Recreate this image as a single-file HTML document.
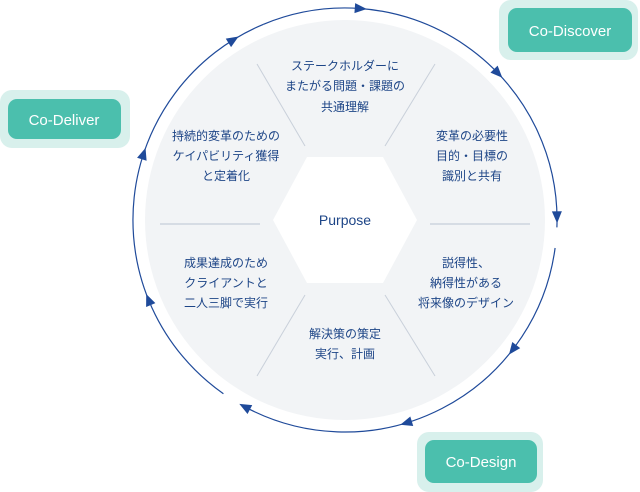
<!DOCTYPE html>
<html><head><meta charset="utf-8"><style>
html,body{margin:0;padding:0;background:#fff;width:640px;height:492px;overflow:hidden}
svg{display:block}
.t{font-family:"Liberation Sans","Noto Sans CJK JP",sans-serif;font-size:12px;fill:#1d4587;text-anchor:middle}
.b{font-family:"Liberation Sans","DejaVu Sans",sans-serif;font-size:15px;fill:#fff;text-anchor:middle}
</style></head><body>
<svg width="640" height="492" viewBox="0 0 640 492">
<circle cx="345" cy="220" r="200" fill="#f2f4f6"/>
<polygon points="273,220 307,157 383,157 417,220 383,283 307,283" fill="#fff"/>
<g stroke="#c9d0da" stroke-width="1">
<line x1="257" y1="64" x2="305" y2="146"/>
<line x1="435" y1="64" x2="385" y2="146"/>
<line x1="160" y1="224" x2="260" y2="224" stroke-width="2" stroke="#d6dce4"/>
<line x1="430" y1="224" x2="530" y2="224" stroke-width="2" stroke="#d6dce4"/>
<line x1="305" y1="295" x2="257" y2="376"/>
<line x1="385" y1="295" x2="435" y2="376"/>
</g>
<g fill="none" stroke="#1f4a9a" stroke-width="1.2">
<path d="M263.2,24.4 A212,212 0 0 1 556.9,227.4"/>
<path d="M555.1,248 A212,212 0 0 1 245.5,407.2"/>
<path d="M223.4,393.7 A212,212 0 0 1 263.2,24.4"/>
</g>
<g fill="#1f4a9a">
<g transform="rotate(-86 345 220)"><polygon transform="translate(557,220)" points="0,7 -5,-5 5,-5"/></g>
<g transform="rotate(-44 345 220)"><polygon transform="translate(557,220)" points="0,7 -5,-5 5,-5"/></g>
<g transform="rotate(-1 345 220)"><polygon transform="translate(557,220)" points="0,7 -5,-5 5,-5"/></g>
<g transform="rotate(37.5 345 220)"><polygon transform="translate(557,220)" points="0,7 -5,-5 5,-5"/></g>
<g transform="rotate(73 345 220)"><polygon transform="translate(557,220)" points="0,7 -5,-5 5,-5"/></g>
<g transform="rotate(118 345 220)"><polygon transform="translate(557,220)" points="0,7 -5,-5 5,-5"/></g>
<g transform="rotate(157.7 345 220)"><polygon transform="translate(557,220)" points="0,7 -5,-5 5,-5"/></g>
<g transform="rotate(198 345 220)"><polygon transform="translate(557,220)" points="0,7 -5,-5 5,-5"/></g>
<g transform="rotate(238 345 220)"><polygon transform="translate(557,220)" points="0,7 -5,-5 5,-5"/></g>
</g>
<text class="t" x="345" y="225" style="font-size:14px">Purpose</text>
<text class="t" x="345" y="70">ステークホルダーに</text>
<text class="t" x="345" y="90">またがる問題・課題の</text>
<text class="t" x="345" y="111">共通理解</text>
<text class="t" x="226" y="140">持続的変革のための</text>
<text class="t" x="226" y="160">ケイパビリティ獲得</text>
<text class="t" x="226" y="180">と定着化</text>
<text class="t" x="472" y="140">変革の必要性</text>
<text class="t" x="472" y="160">目的・目標の</text>
<text class="t" x="472" y="180">識別と共有</text>
<text class="t" x="226" y="267">成果達成のため</text>
<text class="t" x="226" y="287">クライアントと</text>
<text class="t" x="226" y="307">二人三脚で実行</text>
<text class="t" x="466" y="267">説得性、</text>
<text class="t" x="466" y="287">納得性がある</text>
<text class="t" x="466" y="307">将来像のデザイン</text>
<text class="t" x="345" y="338">解決策の策定</text>
<text class="t" x="345" y="358">実行、計画</text>
<rect x="499" y="0" width="139" height="60" rx="12" fill="#d8f0ec"/>
<rect x="508" y="8" width="124" height="44" rx="9" fill="#4bbfad"/>
<text class="b" x="570" y="36">Co-Discover</text>
<rect x="0" y="90" width="130" height="58" rx="12" fill="#d8f0ec"/>
<rect x="8" y="99" width="113" height="40" rx="9" fill="#4bbfad"/>
<text class="b" x="64" y="125">Co-Deliver</text>
<rect x="417" y="432" width="126" height="60" rx="12" fill="#d8f0ec"/>
<rect x="425" y="440" width="112" height="43" rx="9" fill="#4bbfad"/>
<text class="b" x="481" y="467">Co-Design</text>
</svg>
</body></html>
